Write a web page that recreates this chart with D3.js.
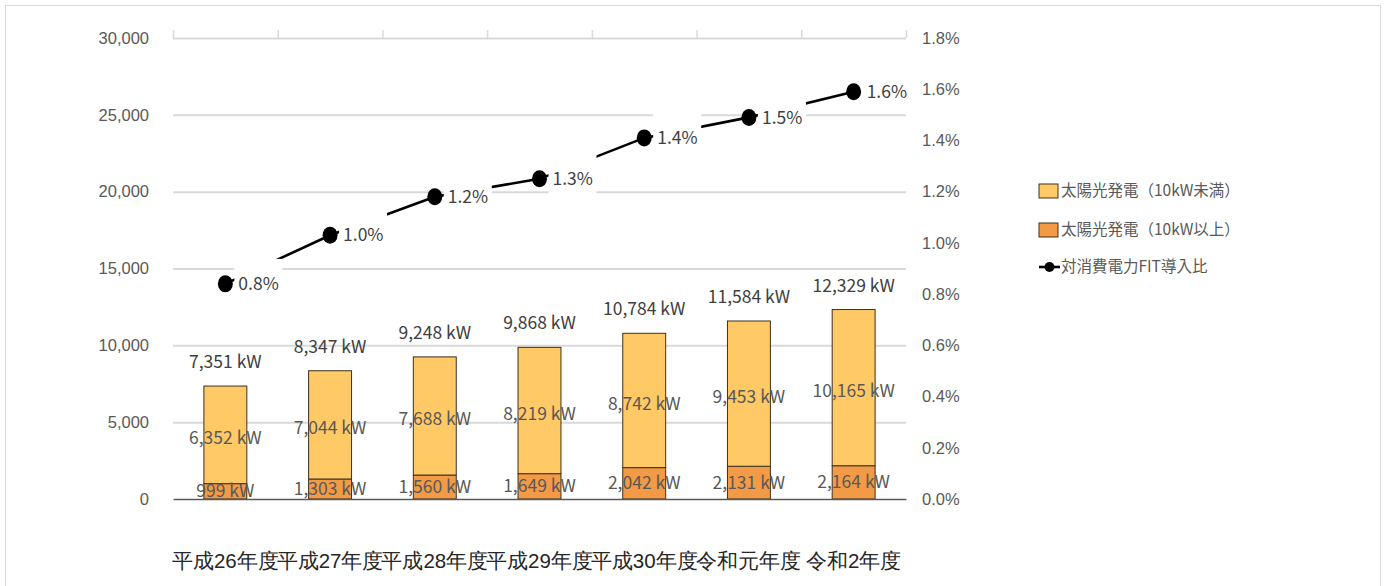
<!DOCTYPE html>
<html>
<head>
<meta charset="utf-8">
<script src="https://cdn.jsdelivr.net/npm/d3@7"></script>
<style>
  html, body { margin: 0; padding: 0; background: #fff; }
  svg { display: block; font-family: "Noto Sans CJK JP", "Noto Sans", sans-serif; }
</style>
</head>
<body>
<div id="chart"></div>
<script>
// 太陽光発電の導入量（積み上げ棒）と対消費電力FIT導入比（折れ線）
const years = ["平成26年度", "平成27年度", "平成28年度", "平成29年度", "平成30年度", "令和元年度", "令和2年度"];
const under10kW = [6352, 7044, 7688, 8219, 8742, 9453, 10165];
const over10kW = [999, 1303, 1560, 1649, 2042, 2131, 2164];
const fitRatio = [0.0084, 0.0103, 0.0118, 0.0125, 0.0141, 0.0149, 0.0159];
const leftTicks = [0, 5000, 10000, 15000, 20000, 25000, 30000];
const rightTicks = [0, 0.002, 0.004, 0.006, 0.008, 0.010, 0.012, 0.014, 0.016, 0.018];
const legendLabels = ["太陽光発電（10kW未満）", "太陽光発電（10kW以上）", "対消費電力FIT導入比"];

const W = 1386, H = 586;
const m = { top: 38, right: 480, bottom: 87, left: 173 };
const colUnder = "#ffc965", colOver = "#f29a45", barStroke = "#3d3020";

const svg = d3.select("#chart").append("svg").attr("width", W).attr("height", H);

// outer frame
svg.append("rect")
  .attr("x", 5.5).attr("y", 5.5).attr("width", W - 11).attr("height", H + 10)
  .attr("fill", "none").attr("stroke", "#d9d9d9");

const x = d3.scaleBand().domain(years).range([m.left, W - m.right]).padding(0);
const xb = d3.scaleBand().domain(years).range([m.left, W - m.right])
  .paddingInner(0.59).paddingOuter(0.295);
const y = d3.scaleLinear().domain([0, 30000]).range([H - m.bottom, m.top]);
const y2 = d3.scaleLinear().domain([0, 0.018]).range([H - m.bottom, m.top]);

// gridlines
svg.append("g")
  .attr("transform", `translate(${m.left},0)`)
  .call(d3.axisLeft(y).tickValues(leftTicks.slice(1)).tickSize(-(W - m.right - m.left)).tickFormat(""))
  .call((g) => g.select(".domain").remove())
  .call((g) => g.selectAll(".tick line").attr("stroke", "#d9d9d9").attr("stroke-width", 2));

// small ticks on the top line at category boundaries
svg.append("g")
  .attr("transform", `translate(0,${y(30000)})`)
  .call(d3.axisTop(d3.scaleLinear().domain([0, years.length]).range([m.left, W - m.right]))
    .tickValues(d3.range(years.length + 1)).tickSize(8).tickFormat(""))
  .call((g) => g.select(".domain").remove())
  .call((g) => g.selectAll(".tick line").attr("stroke", "#d9d9d9").attr("stroke-width", 1.5));

// left axis labels
svg.append("g")
  .attr("transform", `translate(${m.left},0)`)
  .call(d3.axisLeft(y).tickValues(leftTicks).tickSize(0).tickPadding(24).tickFormat(d3.format(",")))
  .call((g) => g.select(".domain").remove())
  .call((g) => g.selectAll(".tick text").attr("fill", "#595959").attr("font-size", 16.5));

// right axis labels
svg.append("g")
  .attr("transform", `translate(${W - m.right},0)`)
  .call(d3.axisRight(y2).tickValues(rightTicks).tickSize(0).tickPadding(16).tickFormat(d3.format(".1%")))
  .call((g) => g.select(".domain").remove())
  .call((g) => g.selectAll(".tick text").attr("fill", "#595959").attr("font-size", 16.5));

// stacked bars
const rows = years.map((d, i) => ({ year: d, lo: over10kW[i], hi: under10kW[i], total: over10kW[i] + under10kW[i] }));

const bars = svg.append("g");
bars.selectAll("rect.over")
  .data(rows).join("rect")
  .attr("x", (d) => xb(d.year)).attr("width", xb.bandwidth())
  .attr("y", (d) => y(d.lo)).attr("height", (d) => y(0) - y(d.lo))
  .attr("fill", colOver).attr("stroke", barStroke).attr("stroke-width", 1);
bars.selectAll("rect.under")
  .data(rows).join("rect")
  .attr("x", (d) => xb(d.year)).attr("width", xb.bandwidth())
  .attr("y", (d) => y(d.total)).attr("height", (d) => y(d.lo) - y(d.total))
  .attr("fill", colUnder).attr("stroke", barStroke).attr("stroke-width", 1);

const kw = (v) => `${d3.format(",")(v)} kW`;
const cx = (d) => x(d) + x.bandwidth() / 2;

// segment labels
bars.selectAll("text.lo")
  .data(rows).join("text")
  .attr("x", (d) => cx(d.year)).attr("y", (d) => (y(0) + y(d.lo)) / 2)
  .attr("dy", "0.35em").attr("text-anchor", "middle")
  .attr("fill", "#595959").attr("font-size", 17.5).text((d) => kw(d.lo));
bars.selectAll("text.hi")
  .data(rows).join("text")
  .attr("x", (d) => cx(d.year)).attr("y", (d) => (y(d.lo) + y(d.total)) / 2 + 3)
  .attr("dy", "0.35em").attr("text-anchor", "middle")
  .attr("fill", "#595959").attr("font-size", 17.5).text((d) => kw(d.hi));
bars.selectAll("text.total")
  .data(rows).join("text")
  .attr("x", (d) => cx(d.year)).attr("y", (d) => y(d.total) - 24)
  .attr("dy", "0.35em").attr("text-anchor", "middle")
  .attr("fill", "#404040").attr("font-size", 17.5).text((d) => kw(d.total));

// bottom axis line + category labels
svg.append("g")
  .attr("transform", `translate(0,${y(0)})`)
  .call(d3.axisBottom(x).tickSize(0).tickPadding(54))
  .call((g) => g.select(".domain").attr("stroke", "#595959").attr("stroke-width", 1.5))
  .call((g) => g.selectAll(".tick text").attr("fill", "#262626").attr("font-size", 20.5));

// FIT ratio line
const pts = years.map((d, i) => ({ year: d, v: fitRatio[i] }));
svg.append("path")
  .datum(pts)
  .attr("fill", "none").attr("stroke", "#000").attr("stroke-width", 2.6)
  .attr("d", d3.line().x((d) => cx(d.year)).y((d) => y2(d.v)));

// label boxes (white fill hides line and gridlines)
svg.append("g").selectAll("rect")
  .data(pts).join("rect")
  .attr("x", (d) => cx(d.year) + 9).attr("y", (d) => y2(d.v) - 25)
  .attr("width", 48).attr("height", 45).attr("fill", "#fff");

svg.append("g").selectAll("ellipse")
  .data(pts).join("ellipse")
  .attr("cx", (d) => cx(d.year)).attr("cy", (d) => y2(d.v))
  .attr("rx", 7.5).attr("ry", 8.5).attr("fill", "#000");

svg.append("g").selectAll("text")
  .data(pts).join("text")
  .attr("x", (d) => cx(d.year) + 13).attr("y", (d) => y2(d.v))
  .attr("dy", "0.35em").attr("fill", "#404040").attr("font-size", 17.5)
  .text((d) => d3.format(".1%")(d.v));

// legend
const lg = svg.append("g").attr("transform", "translate(1039,0)");
const legendY = [191, 230, 267];
[colUnder, colOver].forEach((c, i) => {
  lg.append("rect").attr("x", 0).attr("y", legendY[i] - 7).attr("width", 19).attr("height", 14)
    .attr("fill", c).attr("stroke", barStroke).attr("stroke-width", 1);
});
lg.append("line").attr("x1", 0).attr("x2", 21).attr("y1", legendY[2]).attr("y2", legendY[2])
  .attr("stroke", "#000").attr("stroke-width", 2.6);
lg.append("circle").attr("cx", 10.5).attr("cy", legendY[2]).attr("r", 5).attr("fill", "#000");
lg.selectAll("text")
  .data(legendLabels).join("text")
  .attr("x", 22).attr("y", (d, i) => legendY[i]).attr("dy", "0.35em")
  .attr("fill", "#595959").attr("font-size", 15.5).text((d) => d);
</script>
</body>
</html>
